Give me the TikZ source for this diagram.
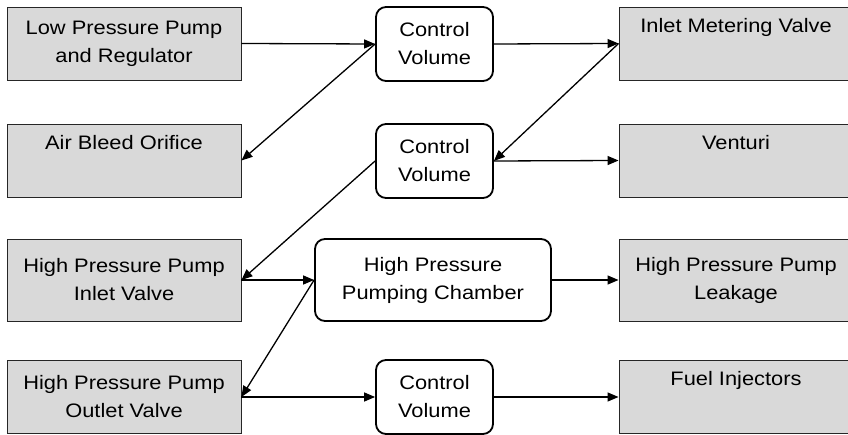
\documentclass[tikz,border=0pt]{standalone}
\usepackage{fontspec}
\setmainfont{Liberation Sans}[FakeStretch=1.12]
\usepackage{tikz}
\usetikzlibrary{arrows.meta}
\definecolor{boxgray}{RGB}{217,217,217}

\begin{document}
\begin{tikzpicture}[x=1pt, y=-1pt, every node/.style={align=center, inner sep=0pt, font=\fontsize{19.5}{28}\selectfont}, partbox/.style={draw=black!85, line width=0.9pt, fill=boxgray, minimum width=234pt, minimum height=73pt}, volbox/.style={draw, line width=1.8pt, rounded corners=10pt, fill=white, minimum width=117pt, minimum height=74pt}, every path/.style={-{Triangle[length=11pt, width=9pt]}, line width=1.3pt}]
        \useasboundingbox (0,0) rectangle (848,435);
        \node[partbox] (lowpump) at (124,43.5) {Low Pressure Pump\\and Regulator};
        \node[partbox] (bleed) at (124,160.5) {Air Bleed Orifice\\\strut};
        \node[partbox, minimum height=82pt] (hpinlet) at (124,280) {High Pressure Pump\\Inlet Valve};
        \node[partbox] (hpoutlet) at (124,397) {High Pressure Pump\\Outlet Valve};
        \node[partbox] (metering) at (736,43.5) {Inlet Metering Valve\\\strut};
        \node[partbox] (venturi) at (736,160.5) {Venturi\\\strut};
        \node[partbox, minimum height=82pt] (leakage) at (736,280) {High Pressure Pump\\Leakage};
        \node[partbox] (injectors) at (736,397) {Fuel Injectors\\\strut};
        \node[volbox] (volA) at (434.5,44) {Control\\Volume};
        \node[volbox] (volB) at (434.5,161) {Control\\Volume};
        \node[volbox, minimum width=236pt, minimum height=82pt] (chamber) at (433,280) {High Pressure\\Pumping Chamber};
        \node[volbox] (volC) at (434.5,397) {Control\\Volume};

        \draw (lowpump.east) -- (volA.west);
        \draw (volA.west) -- (bleed.east);
        \draw (volA.east) -- (metering.west);
        \draw (metering.west) -- (volB.east);
        \draw (volB.east) -- (venturi.west);
        \draw (volB.west) -- (hpinlet.east);
        \draw (hpinlet.east) -- (chamber.west);
        \draw (chamber.west) -- (hpoutlet.east);
        \draw (chamber.east) -- (leakage.west);
        \draw (hpoutlet.east) -- (volC.west);
        \draw (volC.east) -- (injectors.west);
    \end{tikzpicture}
\end{document}
